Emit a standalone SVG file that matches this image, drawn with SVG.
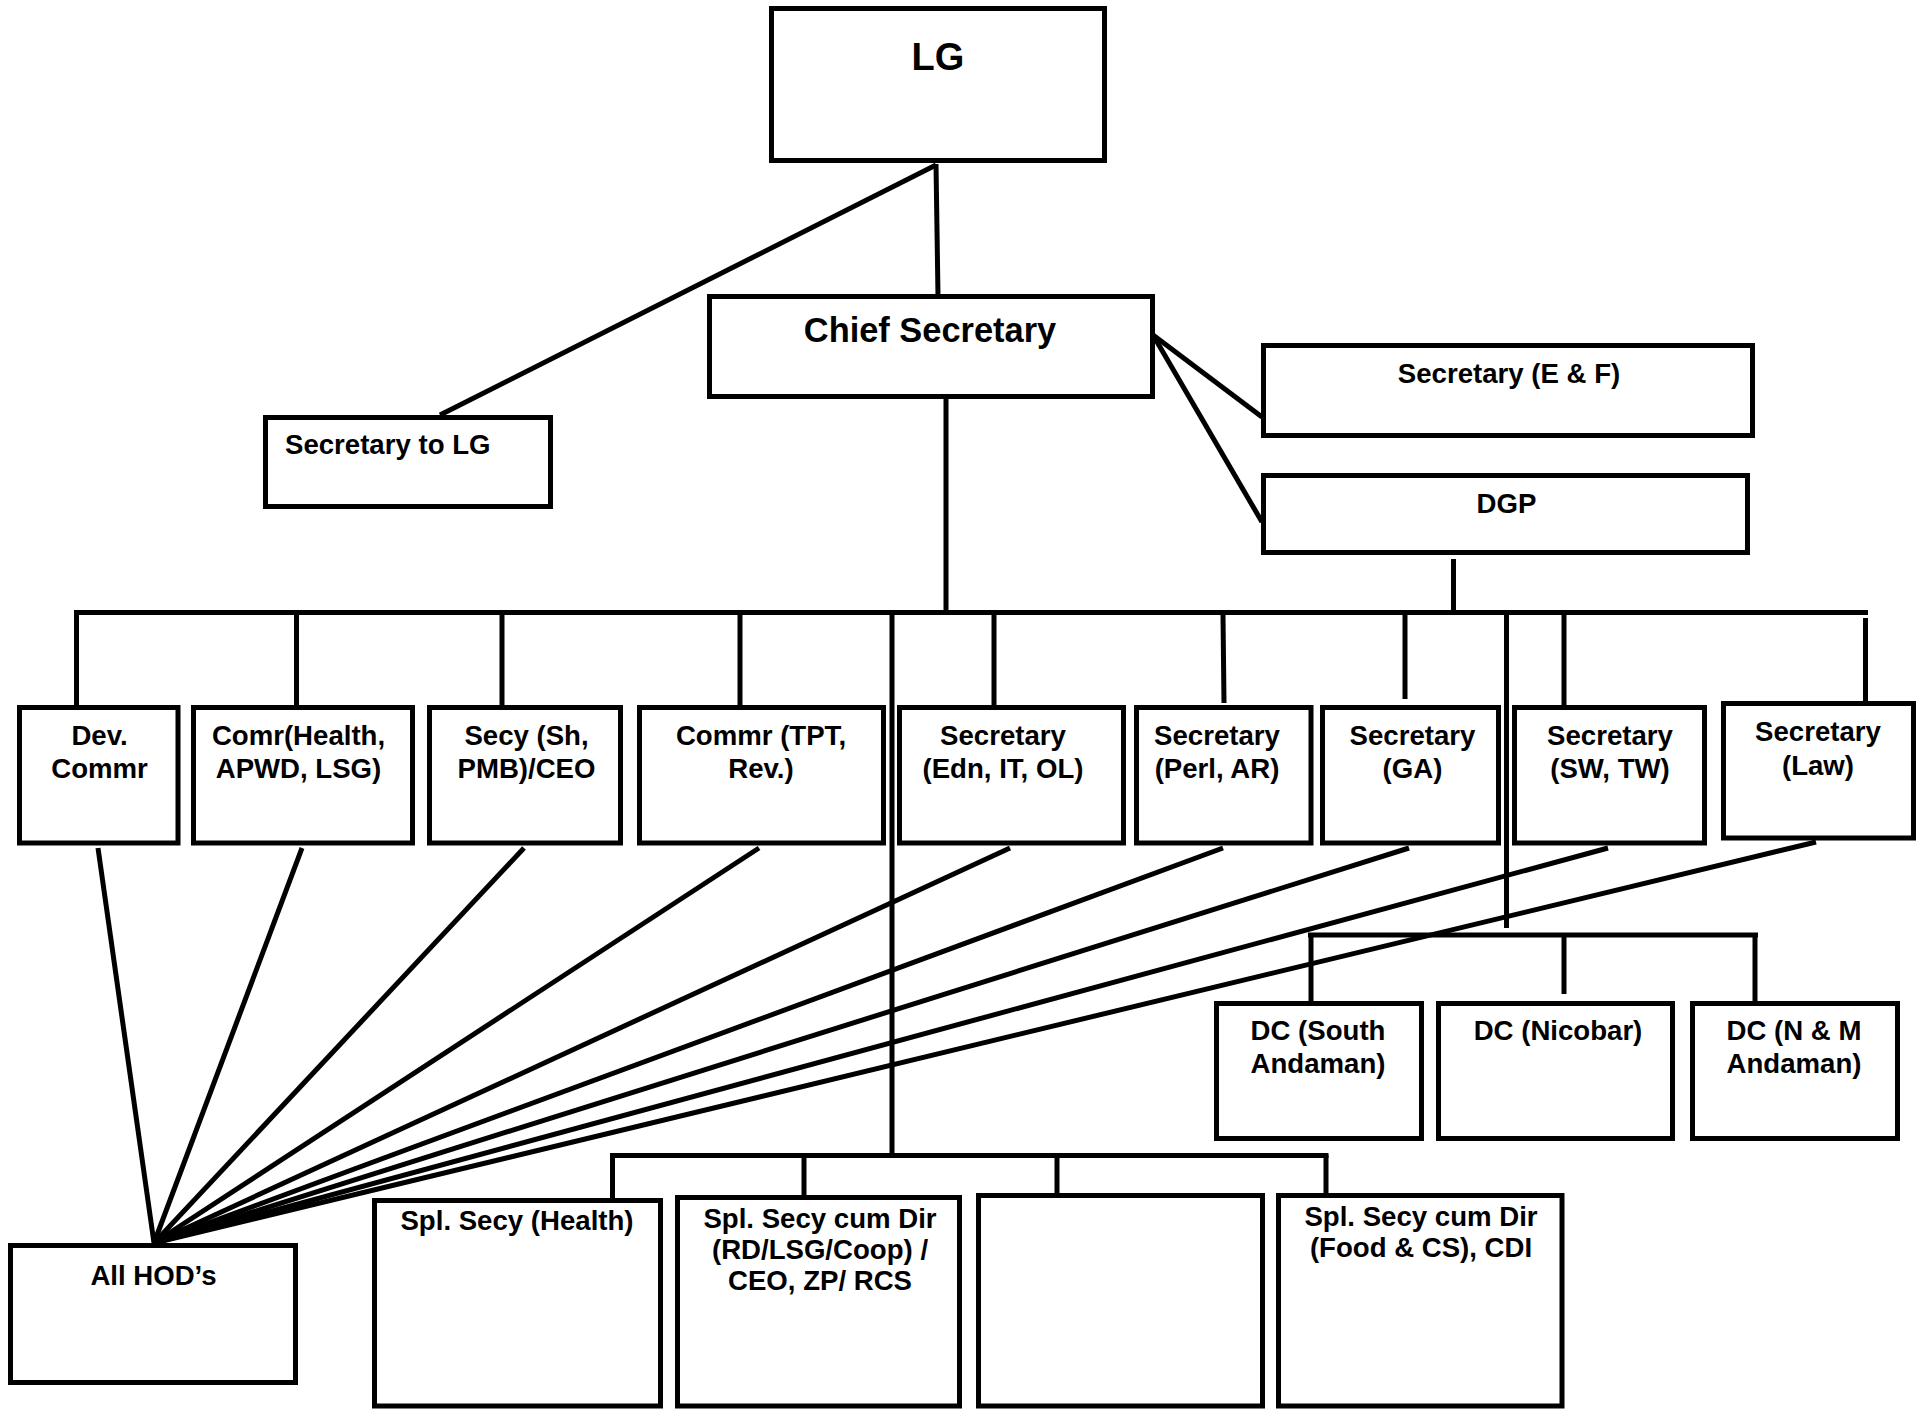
<svg xmlns="http://www.w3.org/2000/svg" width="1919" height="1409" viewBox="0 0 1919 1409">
<style>
.box{fill:#fff;stroke:#000;stroke-width:5}
.t{font-family:"Liberation Sans",Arial,sans-serif;font-weight:bold;font-size:27.6px;fill:#000;text-anchor:middle}
.c line{stroke:#000;stroke-width:5;stroke-linecap:butt}
</style>
<rect width="1919" height="1409" fill="#fff"/>
<g class="c" id="connectors">
<line x1="936" y1="164" x2="938" y2="296"/>
<line x1="936" y1="165" x2="440" y2="415"/>
<line x1="1153" y1="335" x2="1262" y2="417"/>
<line x1="1153" y1="335" x2="1262" y2="522"/>
<line x1="946" y1="399" x2="946" y2="612"/>
<line x1="1453.5" y1="559" x2="1453.5" y2="612"/>
<line x1="74" y1="612.5" x2="1868" y2="612.5"/>
<line x1="76.5" y1="612" x2="76.5" y2="707"/>
<line x1="296.5" y1="615" x2="296.5" y2="707"/>
<line x1="502" y1="615" x2="502" y2="707"/>
<line x1="740" y1="615" x2="740" y2="707"/>
<line x1="994" y1="615" x2="994" y2="707"/>
<line x1="1223" y1="615" x2="1224" y2="703"/>
<line x1="1405" y1="615" x2="1405" y2="699"/>
<line x1="1564" y1="615" x2="1564" y2="707"/>
<line x1="1865.5" y1="618" x2="1865.5" y2="706"/>
<line x1="892" y1="612" x2="892" y2="1156"/>
<line x1="1506.5" y1="612" x2="1506.5" y2="928"/>
<line x1="1308" y1="935" x2="1758" y2="935"/>
<line x1="1311" y1="935" x2="1311" y2="1002"/>
<line x1="1564" y1="935" x2="1564" y2="994"/>
<line x1="1755" y1="935" x2="1755" y2="1002"/>
<line x1="610" y1="1155.5" x2="1328.5" y2="1155.5"/>
<line x1="612.5" y1="1155" x2="612.5" y2="1200"/>
<line x1="804" y1="1155" x2="804" y2="1198"/>
<line x1="1057" y1="1155" x2="1057" y2="1200"/>
<line x1="1326" y1="1155" x2="1326" y2="1200"/>
<line x1="98" y1="848" x2="154" y2="1243"/>
<line x1="302" y1="848" x2="154" y2="1243"/>
<line x1="524" y1="848" x2="154" y2="1243"/>
<line x1="759" y1="848" x2="154" y2="1243"/>
<line x1="1010" y1="848" x2="154" y2="1243"/>
<line x1="1223" y1="848" x2="154" y2="1243"/>
<line x1="1409" y1="848" x2="154" y2="1243"/>
<line x1="1608" y1="848" x2="154" y2="1243"/>
<line x1="1816" y1="842" x2="154" y2="1243"/>
</g>
<g id="lg"><rect class="box" x="771.5" y="8.5" width="333" height="152"/><text class="t" x="938" y="70" style="font-size:38px">LG</text></g>
<g id="chief-secretary"><rect class="box" x="709.5" y="296.5" width="443" height="100"/><text class="t" x="930" y="342" style="font-size:34.4px">Chief Secretary</text></g>
<g id="secretary-to-lg"><rect class="box" x="265.5" y="417.5" width="285" height="89"/><text class="t" x="285" y="454" style="text-anchor:start">Secretary to LG</text></g>
<g id="secretary-ef"><rect class="box" x="1263.5" y="345.5" width="489" height="90"/><text class="t" x="1509" y="383">Secretary (E &amp; F)</text></g>
<g id="dgp"><rect class="box" x="1263.5" y="475.5" width="484" height="77"/><text class="t" x="1506.5" y="513">DGP</text></g>
<g id="dev-commr"><rect class="box" x="19.5" y="707.5" width="158.5" height="135.5"/><text class="t" x="99.5" y="745">Dev.</text><text class="t" x="99.5" y="778">Commr</text></g>
<g id="comr-health"><rect class="box" x="193.5" y="707.5" width="219" height="135.5"/><text class="t" x="298.5" y="745">Comr(Health,</text><text class="t" x="298.5" y="778">APWD, LSG)</text></g>
<g id="secy-sh"><rect class="box" x="429.5" y="707.5" width="191" height="135.5"/><text class="t" x="526.5" y="745">Secy (Sh,</text><text class="t" x="526.5" y="778">PMB)/CEO</text></g>
<g id="commr-tpt"><rect class="box" x="639.5" y="707.5" width="244" height="135.5"/><text class="t" x="761" y="745">Commr (TPT,</text><text class="t" x="761" y="778">Rev.)</text></g>
<g id="secretary-edn"><rect class="box" x="899.5" y="707.5" width="224" height="135.5"/><text class="t" x="1003" y="745">Secretary</text><text class="t" x="1003" y="778">(Edn, IT, OL)</text></g>
<g id="secretary-perl"><rect class="box" x="1136.5" y="707.5" width="174.5" height="135.5"/><text class="t" x="1217" y="745">Secretary</text><text class="t" x="1217" y="778">(Perl, AR)</text></g>
<g id="secretary-ga"><rect class="box" x="1322.5" y="707.5" width="176" height="135.5"/><text class="t" x="1412.5" y="745">Secretary</text><text class="t" x="1412.5" y="778">(GA)</text></g>
<g id="secretary-sw"><rect class="box" x="1514.5" y="707.5" width="190" height="135.5"/><text class="t" x="1610" y="745">Secretary</text><text class="t" x="1610" y="778">(SW, TW)</text></g>
<g id="secretary-law"><rect class="box" x="1723.5" y="703.5" width="190" height="134.5"/><text class="t" x="1818" y="741">Secretary</text><text class="t" x="1818" y="775">(Law)</text></g>
<g id="dc-south"><rect class="box" x="1216.5" y="1003.5" width="205" height="135"/><text class="t" x="1318" y="1040">DC (South</text><text class="t" x="1318" y="1073">Andaman)</text></g>
<g id="dc-nicobar"><rect class="box" x="1438.5" y="1003.5" width="234" height="135"/><text class="t" x="1558" y="1040">DC (Nicobar)</text></g>
<g id="dc-nm"><rect class="box" x="1692.5" y="1003.5" width="205" height="135"/><text class="t" x="1794" y="1040">DC (N &amp; M</text><text class="t" x="1794" y="1073">Andaman)</text></g>
<g id="all-hods"><rect class="box" x="10.5" y="1245.5" width="285" height="137"/><text class="t" x="153.5" y="1285">All HOD’s</text></g>
<g id="spl-health"><rect class="box" x="374.5" y="1200.5" width="286" height="205.5"/><text class="t" x="517" y="1230">Spl. Secy (Health)</text></g>
<g id="spl-rd"><rect class="box" x="677.5" y="1197.5" width="282" height="208.5"/><text class="t" x="820" y="1228">Spl. Secy cum Dir</text><text class="t" x="820" y="1259">(RD/LSG/Coop) /</text><text class="t" x="820" y="1290">CEO, ZP/ RCS</text></g>
<g id="empty-box"><rect class="box" x="978.5" y="1195.5" width="284" height="210.5"/></g>
<g id="spl-food"><rect class="box" x="1278.5" y="1195.5" width="283.5" height="210.5"/><text class="t" x="1421" y="1226">Spl. Secy cum Dir</text><text class="t" x="1421" y="1257">(Food &amp; CS), CDI</text></g>
</svg>
